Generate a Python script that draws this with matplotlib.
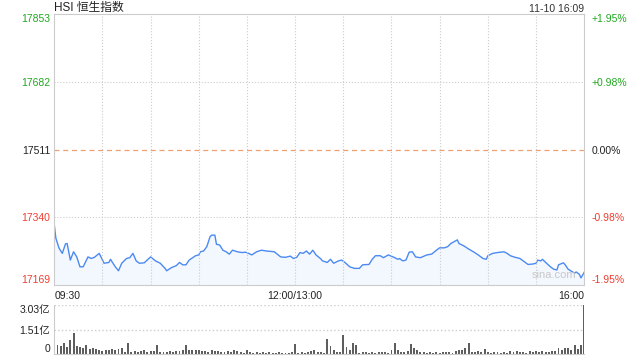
import numpy as np
import matplotlib.pyplot as plt
from matplotlib.ticker import FixedLocator

plt.rcParams['font.family'] = ['Liberation Sans', 'Noto Sans CJK SC', 'DejaVu Sans']

# -----------------------
# Data (minutes since 09:30, trading time only)
# -----------------------
prev_close = 17511
price_min = [0, 1, 3, 5, 7, 8, 10, 12, 14, 16, 18, 21, 23, 25, 28, 31, 34, 35,
             38, 40, 42, 45, 47, 49, 51, 53, 56, 60, 63, 66, 69, 70, 73, 76, 78,
             80, 82, 84, 88, 90, 91, 93, 95, 97, 98, 100, 101, 103, 105, 107,
             109, 111, 114, 117, 119, 121, 123, 126, 129, 132, 137, 141, 144,
             147, 149, 151, 153, 155, 157, 159, 161, 163, 166, 167, 170, 172,
             174, 177, 179, 181, 184, 187, 190, 192, 196, 198, 200, 203, 205,
             208, 211, 214, 215, 217, 219, 221, 223, 225, 228, 232, 235, 238,
             240, 243, 245, 247, 251, 252, 255, 258, 261, 264, 267, 269, 270,
             273, 276, 280, 282, 284, 287, 290, 292, 295, 298, 300, 301, 303,
             304, 306, 309, 311, 313, 314, 317, 318, 320, 322, 324, 325, 327,
             328, 330]
price = [17321, 17287, 17262, 17249, 17273, 17274, 17232, 17253, 17240, 17215,
         17215, 17240, 17236, 17239, 17249, 17224, 17226, 17234, 17215, 17205,
         17224, 17236, 17238, 17249, 17230, 17224, 17225, 17240, 17230, 17224,
         17211, 17205, 17213, 17218, 17226, 17220, 17220, 17232, 17243, 17245,
         17253, 17255, 17266, 17291, 17295, 17295, 17272, 17270, 17257, 17253,
         17247, 17257, 17253, 17251, 17252, 17249, 17245, 17253, 17257, 17255,
         17253, 17240, 17239, 17242, 17236, 17239, 17251, 17249, 17255, 17247,
         17257, 17245, 17235, 17230, 17226, 17234, 17224, 17230, 17232, 17226,
         17215, 17211, 17211, 17220, 17221, 17234, 17243, 17243, 17238, 17245,
         17240, 17234, 17236, 17230, 17232, 17252, 17253, 17240, 17238, 17245,
         17247, 17257, 17263, 17263, 17266, 17274, 17283, 17274, 17268, 17260,
         17253, 17245, 17236, 17234, 17243, 17249, 17251, 17253, 17249, 17243,
         17239, 17236, 17230, 17221, 17222, 17224, 17232, 17230, 17234, 17226,
         17215, 17209, 17207, 17220, 17225, 17221, 17209, 17204, 17199, 17202,
         17196, 17187, 17201]

# volume in 亿, one bar every 2 minutes
vol_min = list(range(0, 331, 2))
volume = [2.00, 0.60, 0.55, 0.70, 0.45, 0.90, 1.32, 0.50, 0.45, 0.40,
          0.60, 0.35, 0.40, 0.35, 0.25, 0.22, 0.30, 0.30, 0.33, 0.28,
          0.35, 0.40, 0.18, 0.71, 0.18, 0.20, 0.15, 0.22, 0.25, 0.18,
          0.22, 0.20, 0.57, 0.18, 0.15, 0.15, 0.20, 0.18, 0.22, 0.20,
          0.25, 0.57, 0.25, 0.30, 0.28, 0.30, 0.22, 0.20, 0.15, 0.25,
          0.20, 0.22, 0.15, 0.18, 0.20, 0.15, 0.25, 0.22, 0.18, 0.12,
          0.28, 0.15, 0.12, 0.15, 0.10, 0.15, 0.12, 0.15, 0.10, 0.12,
          0.15, 0.12, 0.10, 0.12, 0.15, 0.63, 0.12, 0.15, 0.12, 0.15,
          0.20, 0.28, 0.15, 0.15, 0.10, 0.94, 0.50, 0.30, 0.18, 0.15,
          1.18, 0.45, 0.25, 0.71, 0.61, 0.12, 0.15, 0.18, 0.12, 0.15,
          0.12, 0.15, 0.18, 0.15, 0.12, 0.25, 0.71, 0.30, 0.18, 0.15,
          0.20, 0.63, 0.37, 0.25, 0.15, 0.18, 0.12, 0.15, 0.12, 0.15,
          0.12, 0.15, 0.15, 0.18, 0.12, 0.20, 0.25, 0.30, 0.40, 0.71,
          0.18, 0.15, 0.20, 0.15, 0.33, 0.15, 0.12, 0.18, 0.15, 0.12,
          0.15, 0.12, 0.20, 0.18, 0.22, 0.15, 0.18, 0.12, 0.20, 0.15,
          0.22, 0.18, 0.20, 0.15, 0.18, 0.20, 0.20, 0.37, 0.30, 0.37,
          0.40, 0.30, 0.57, 0.35, 0.61, 3.03]

price_ticks = [17853, 17682, 17511, 17340, 17169]
pct_labels = ["+1.95%", "+0.98%", "0.00%", "-0.98%", "-1.95%"]
vol_ticks = [3.03, 1.51, 0]
vol_labels = ["3.03亿", "1.51亿", "0"]
time_labels = ["09:30", "12:00/13:00", "16:00"]
time_pos = [0, 150, 330]

green = "#1fa81f"
red = "#f03c30"
grid_c = "#cccccc"

fig = plt.figure(figsize=(6.4, 3.6), dpi=100)

# -----------------------
# Price panel
# -----------------------
ax = fig.add_axes([0.0848, 0.2083, 0.828, 0.752])
ax.fill_between(price_min, price, 17169, color="#f3f7fe", lw=0)
ax.plot(price_min, price, color="#4b8af2", lw=1.0)
ax.axhline(prev_close, color="#f0a070", lw=0.9, ls=(0, (4, 3)))
for t in range(30, 330, 30):
    ax.axvline(t, color=grid_c, lw=0.8, ls=":")
for p in [17682, 17340]:
    ax.axhline(p, color=grid_c, lw=0.8, ls=":")
ax.set_xlim(0, 330)
ax.set_ylim(17169, 17853)
for s in ax.spines.values():
    s.set_color(grid_c)

ax.yaxis.set_major_locator(FixedLocator(price_ticks))
ax.set_yticklabels([str(p) for p in price_ticks])
ax.tick_params(axis="y", length=0, labelsize=7.5, pad=3)
ycols = [green, green, "#222222", red, red]
for lab, c in zip(ax.get_yticklabels(), ycols):
    lab.set_color(c)
ylabs = ax.get_yticklabels()
ylabs[0].set_va("top")
ylabs[-1].set_va("bottom")

ax2 = ax.twinx()
ax2.set_ylim(17169, 17853)
ax2.yaxis.set_major_locator(FixedLocator(price_ticks))
ax2.set_yticklabels(pct_labels)
ax2.tick_params(axis="y", length=0, labelsize=7.5, pad=5)
for lab, c in zip(ax2.get_yticklabels(), ycols):
    lab.set_color(c)
rlabs = ax2.get_yticklabels()
rlabs[0].set_va("top")
rlabs[-1].set_va("bottom")
for s in ax2.spines.values():
    s.set_visible(False)

ax.xaxis.set_major_locator(FixedLocator(time_pos))
ax.set_xticklabels(time_labels)
ax.tick_params(axis="x", length=0, labelsize=7.5, pad=4, colors="#222222")
xlabs = ax.get_xticklabels()
xlabs[0].set_ha("left")
xlabs[-1].set_ha("right")

fig.text(0.0848, 0.978, "HSI 恒生指数", fontsize=8.5,
         ha="left", va="center", color="#222222")
fig.text(0.913, 0.976, "11-10 16:09", fontsize=7.5,
         ha="right", va="center", color="#333333")
ax.text(0.985, 0.02, "sina.com", transform=ax.transAxes, fontsize=8,
        ha="right", va="bottom", color="#c8c8c8")

# -----------------------
# Volume panel
# -----------------------
axv = fig.add_axes([0.0848, 0.0153, 0.828, 0.1375])
axv.bar(vol_min, volume, width=1.2, color="#5e5e5e", align="center")
axv.set_xlim(0, 330)
axv.set_ylim(0, 3.03)
axv.axhline(3.03, color=grid_c, lw=1.0, ls=":")
axv.axhline(1.51, color=grid_c, lw=1.0, ls=":")
for side in ["top", "right"]:
    axv.spines[side].set_visible(False)
axv.spines["left"].set_color(grid_c)
axv.spines["bottom"].set_color(grid_c)
axv.set_xticks([])
axv.yaxis.set_major_locator(FixedLocator(vol_ticks))
axv.set_yticklabels(vol_labels)
axv.tick_params(axis="y", length=0, labelsize=7.5, pad=3, colors="#222222")
vlabs = axv.get_yticklabels()
vlabs[0].set_va("top")
vlabs[-1].set_va("bottom")

fig.savefig("out.png", dpi=100)
